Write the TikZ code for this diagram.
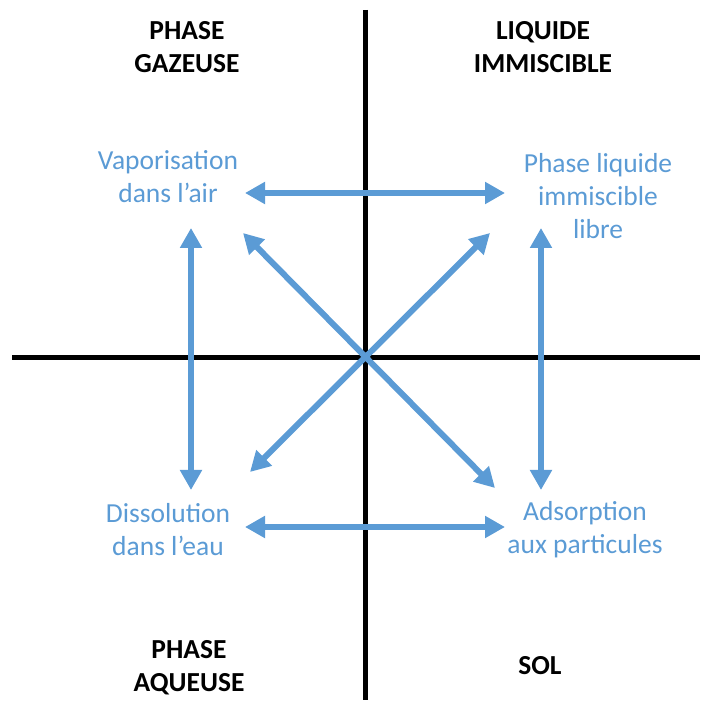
\documentclass[tikz,border=0pt]{standalone}
\usepackage{fontspec}
\setmainfont{Carlito}
\usepackage{tikz}
\usetikzlibrary{arrows.meta, calc}
\definecolor{officeblue}{RGB}{91, 155, 213}

\begin{document}
\begin{tikzpicture}[x=1pt, y=1pt,
    phase/.style={align=center, inner sep=3pt, font=\fontsize{27.5}{33}\selectfont\bfseries, text=black},
    state/.style={align=center, inner sep=3pt, font=\fontsize{27.5}{33}\selectfont, text=officeblue},
    axis/.style={line width=5pt, black},
    biarrow/.style={{Triangle[length=20pt, width=21pt]}-{Triangle[length=20pt, width=21pt]}, line width=6pt, officeblue}
]
\useasboundingbox (0,0) rectangle (701,702);

% Axes
\coordinate (N) at (365,692);
\coordinate (S) at (365,2);
\coordinate (W) at (12,344);
\coordinate (E) at (700,344);
\draw [axis] (N) -- (S);
\draw [axis] (W) -- (E);

% Quadrant titles
\node (GAZ)  [phase] at (187,655) {PHASE\\GAZEUSE};
\node (IMM)  [phase] at (543,655) {LIQUIDE\\IMMISCIBLE};
\node (AQU)  [phase] at (189,34)  {PHASE\\AQUEUSE};
\node (SOL)  [phase] at (540,36)  {SOL};

% States
\node (VAP) [state] at (168,525) {Vaporisation\\dans l’air};
\node (LIQ) [state] at (598,506) {Phase liquide\\immiscible\\libre};
\node (DIS) [state] at (168,172) {Dissolution\\dans l’eau};
\node (ADS) [state] at (585,172) {Adsorption\\aux particules};

% Transfers
\draw [biarrow] ($(VAP)+(77,-16)$) -- ($(LIQ)+(-93,3)$);
\draw [biarrow] ($(DIS)+(77,3)$)   -- ($(ADS)+(-80,3)$);
\draw [biarrow] ($(VAP)+(23,-51)$) -- ($(DIS)+(23,40)$);
\draw [biarrow] ($(LIQ)+(-57,-32)$) -- ($(ADS)+(-44,40)$);
\draw [biarrow] ($(VAP)+(75,-56)$) -- ($(ADS)+(-90,42)$);
\draw [biarrow] ($(LIQ)+(-108,-37)$) -- ($(DIS)+(82,58)$);

\end{tikzpicture}
\end{document}
